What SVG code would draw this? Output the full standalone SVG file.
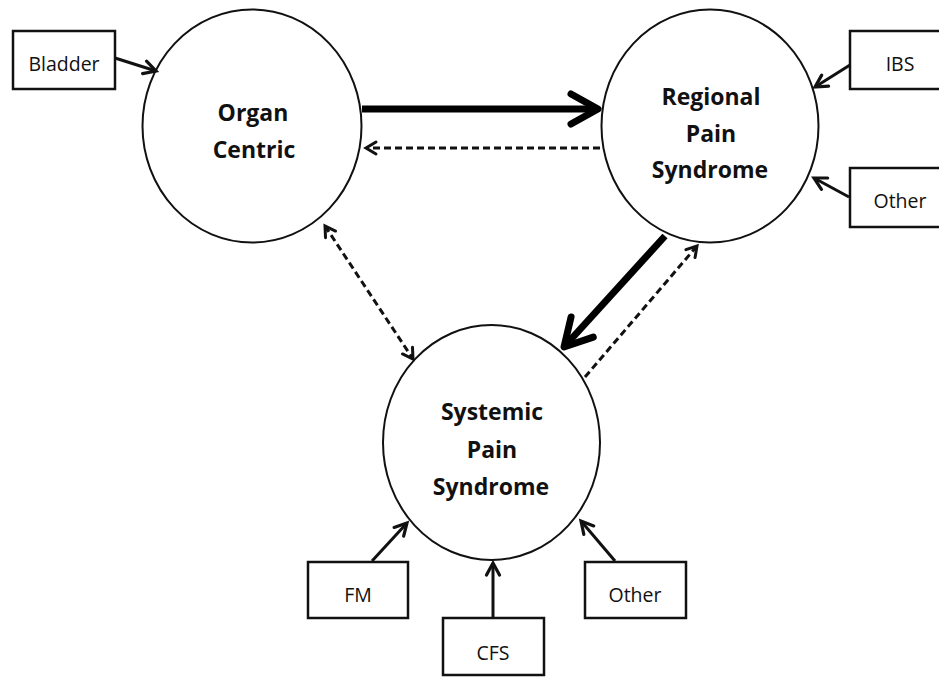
<svg xmlns="http://www.w3.org/2000/svg" width="939" height="678" viewBox="0 0 939 678">
<defs>
<style>
.circ{fill:#fff;stroke:#111;stroke-width:2}
.box{fill:#fff;stroke:#111;stroke-width:2.5}
.title{font-family:"Open Sans","Liberation Sans",sans-serif;font-weight:700;font-size:23px;fill:#111;text-anchor:middle}
.lbl{font-family:"Open Sans","Liberation Sans",sans-serif;font-size:19.5px;fill:#111;text-anchor:middle}
.thin{stroke:#111;stroke-width:3;fill:none}
.thick{stroke:#000;stroke-width:7;fill:none}
.dash{stroke:#111;stroke-width:3;fill:none;stroke-dasharray:7 4}
</style>
<marker id="ah" markerUnits="userSpaceOnUse" orient="auto-start-reverse" markerWidth="30" markerHeight="30" viewBox="-15 -15 30 30" refX="0" refY="0" overflow="visible">
<path d="M-12,-6.5 L0,0 L-12,6.5" fill="none" stroke="#111" stroke-width="3.2" stroke-linejoin="miter" stroke-linecap="round"/>
</marker>
<marker id="ahd" markerUnits="userSpaceOnUse" orient="auto-start-reverse" markerWidth="30" markerHeight="30" viewBox="-15 -15 30 30" refX="0" refY="0" overflow="visible">
<path d="M-10,-6 L0,0 L-10,6" fill="none" stroke="#111" stroke-width="3" stroke-linejoin="miter" stroke-linecap="round"/>
</marker>
<marker id="ahk" markerUnits="userSpaceOnUse" orient="auto" markerWidth="80" markerHeight="80" viewBox="-40 -40 80 80" refX="0" refY="0" overflow="visible">
<path d="M-27,-15 L0,0 L-27,15" fill="none" stroke="#000" stroke-width="7" stroke-linejoin="round" stroke-linecap="round"/>
</marker>
</defs>
<rect width="939" height="678" fill="#fff"/>

<g id="organ-centric">
<ellipse class="circ" cx="252" cy="126" rx="109.5" ry="116.5"/>
<text class="title" x="253" y="121">Organ</text>
<text class="title" x="254" y="158">Centric</text>
</g>

<g id="regional-pain-syndrome">
<ellipse class="circ" cx="710" cy="126" rx="108.5" ry="116.5"/>
<text class="title" x="711" y="105">Regional</text>
<text class="title" x="711" y="142">Pain</text>
<text class="title" x="710" y="178">Syndrome</text>
</g>

<g id="systemic-pain-syndrome">
<ellipse class="circ" cx="491.5" cy="442.5" rx="108.5" ry="117.5"/>
<text class="title" x="492" y="420">Systemic</text>
<text class="title" x="492" y="458">Pain</text>
<text class="title" x="491" y="495">Syndrome</text>
</g>

<g id="bladder">
<rect class="box" x="13" y="31" width="102" height="58"/>
<text class="lbl" x="64" y="71">Bladder</text>
</g>

<g id="ibs">
<rect class="box" x="850" y="31" width="100" height="58"/>
<text class="lbl" x="900" y="71">IBS</text>
</g>

<g id="other-regional">
<rect class="box" x="850" y="168" width="100" height="59"/>
<text class="lbl" x="900" y="208">Other</text>
</g>

<g id="fm">
<rect class="box" x="308" y="562" width="100" height="56"/>
<text class="lbl" x="358" y="602">FM</text>
</g>

<g id="cfs">
<rect class="box" x="443" y="618" width="101" height="57"/>
<text class="lbl" x="493" y="660">CFS</text>
</g>

<g id="other-systemic">
<rect class="box" x="585" y="562" width="101" height="56"/>
<text class="lbl" x="635" y="602">Other</text>
</g>

<g id="connectors">
<line class="thin" x1="115" y1="58" x2="156" y2="71" marker-end="url(#ah)"/>
<line class="thin" x1="850" y1="65" x2="815" y2="87" marker-end="url(#ah)"/>
<line class="thin" x1="849" y1="197" x2="814" y2="178" marker-end="url(#ah)"/>
<line class="thin" x1="372" y1="561" x2="407" y2="523" marker-end="url(#ah)"/>
<line class="thin" x1="493" y1="618" x2="493" y2="563" marker-end="url(#ah)"/>
<line class="thin" x1="615" y1="561" x2="581" y2="521" marker-end="url(#ah)"/>

<line class="thick" x1="362" y1="109" x2="598" y2="109" marker-end="url(#ahk)"/>
<line class="thick" x1="665" y1="236" x2="564" y2="347" marker-end="url(#ahk)"/>

<line class="dash" x1="600" y1="148" x2="366" y2="148" marker-end="url(#ahd)"/>
<line class="dash" x1="325" y1="226" x2="413" y2="359" marker-start="url(#ahd)" marker-end="url(#ahd)"/>
<line class="dash" x1="585" y1="377" x2="697" y2="246" marker-end="url(#ahd)"/>
</g>
</svg>
